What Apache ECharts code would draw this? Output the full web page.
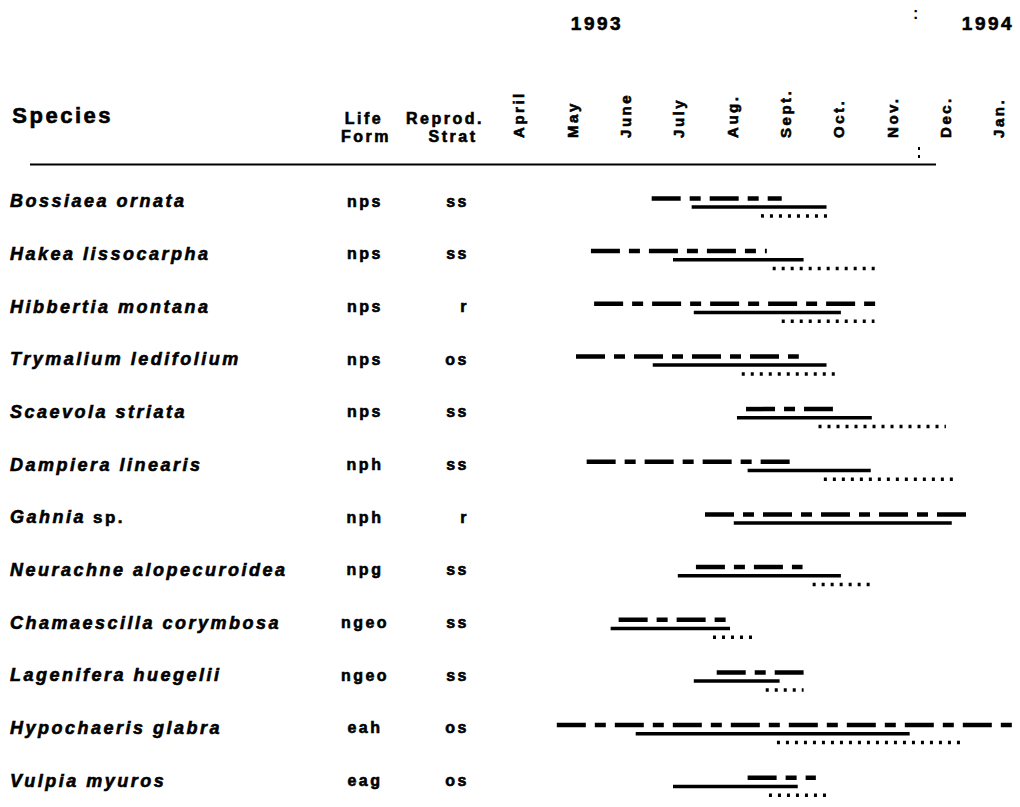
<!DOCTYPE html>
<html>
<head>
<meta charset="utf-8">
<script src="https://cdn.jsdelivr.net/npm/echarts@6/dist/echarts.min.js"></script>
<style>
  html, body { margin: 0; padding: 0; background: #fff; }
  #chart { width: 1020px; height: 807px; }
  #chart text { letter-spacing: 2.5px; }
</style>
</head>
<body>
<div id="chart"></div>
<script>
// ---- Data (month index: 0 = April 1993 ... 9 = January 1994) ----
const months = ['April', 'May', 'June', 'July', 'Aug.', 'Sept.', 'Oct.', 'Nov.', 'Dec.', 'Jan.'];
const species = ['Bossiaea ornata', 'Hakea lissocarpha', 'Hibbertia montana', 'Trymalium ledifolium',
  'Scaevola striata', 'Dampiera linearis', 'Gahnia sp.', 'Neurachne alopecuroidea',
  'Chamaescilla corymbosa', 'Lagenifera huegelii', 'Hypochaeris glabra', 'Vulpia myuros'];
const lifeForm = ['nps', 'nps', 'nps', 'nps', 'nps', 'nph', 'nph', 'npg', 'ngeo', 'ngeo', 'eah', 'eag'];
const reprodStrat = ['ss', 'ss', 'r', 'os', 'ss', 'ss', 'r', 'ss', 'ss', 'ss', 'os', 'os'];
// dashed bars [start, end]
const phaseDashed = [[2.49, 4.93], [1.35, 4.65], [1.41, 6.69], [1.07, 5.25], [4.26, 5.89], [1.27, 5.10],
  [3.49, 8.44], [3.32, 5.32], [1.87, 3.92], [3.71, 5.34], [0.71, 9.34], [4.29, 5.57]];
// solid bars [start, end]
const phaseSolid = [[3.24, 5.77], [2.89, 5.34], [3.28, 6.04], [2.51, 5.77], [4.09, 6.62], [4.29, 6.60],
  [4.03, 8.12], [2.98, 6.04], [1.72, 3.96], [3.28, 4.89], [2.19, 7.33], [2.89, 5.23]];
// dotted bars [start, end] (null = none)
const phaseDotted = [[4.54, 5.89], [4.76, 6.77], [4.93, 6.67], [4.18, 5.94], [5.62, 8.01], [5.72, 8.14],
  null, [5.51, 6.58], [3.64, 4.39], [4.63, 5.34], [4.84, 8.32], [4.69, 5.81]];
const years = ['1993', '1994'];

// ---- Layout ----
const gridLeft = 465.66, gridWidth = 554.7;   // x: -1 .. 9.4
const rowStep = 54.1, firstRowY = 202;
const gridTop = firstRowY - rowStep / 2, gridHeight = rowStep * species.length;
const offDashed = -0.055, offSolid = 0.11, offDotted = 0.277;

function barSeries(name, arr, off, lineStyle) {
  const out = [];
  arr.forEach((r, i) => {
    if (!r) return;
    out.push({
      name: name, type: 'line', xAxisIndex: 0, yAxisIndex: 3,
      data: [[r[0], i + off], [r[1], i + off]],
      symbol: 'none', clip: false, silent: true,
      lineStyle: Object.assign({ color: '#000', cap: 'butt' }, lineStyle)
    });
  });
  return out;
}

const series = [].concat(
  barSeries('Dashed phase', phaseDashed, offDashed, { width: 4.5, type: [29, 9, 11, 9] }),
  barSeries('Solid phase', phaseSolid, offSolid, { width: 3.5, type: 'solid' }),
  barSeries('Dotted phase', phaseDotted, offDotted, { width: 3.5, type: [3, 6] })
);

const FONT = '"Liberation Sans", Arial, sans-serif';
const heavy = { textBorderColor: '#000', textBorderWidth: 0.6 };
const chart = echarts.init(document.getElementById('chart'), null, { renderer: 'svg' });
chart.setOption({
  animation: false,
  backgroundColor: '#fff',
  grid: { left: gridLeft, width: gridWidth, top: gridTop, height: gridHeight, containLabel: false },
  xAxis: [{
    type: 'value', position: 'top', min: -1, max: 9.4, interval: 1,
    axisLine: { show: false }, axisTick: { show: false }, splitLine: { show: false },
    axisLabel: Object.assign({
      rotate: 90, margin: 37, fontSize: 15, fontWeight: 'bold', color: '#000', fontFamily: FONT,
      showMinLabel: true, showMaxLabel: false,
      formatter: v => (Number.isInteger(v) && v >= 0 && v < months.length) ? months[v] : ''
    }, heavy)
  }],
  yAxis: [
    {
      type: 'category', data: species, inverse: true, position: 'left',
      axisLine: { show: false }, axisTick: { show: false },
      axisLabel: Object.assign({
        align: 'left', margin: gridLeft - 10, fontSize: 18, fontWeight: 'bold', fontStyle: 'italic',
        color: '#000', fontFamily: FONT,
        formatter: v => v.endsWith(' sp.') ? '{i|' + v.slice(0, -4) + '}{n|sp.}' : v,
        rich: {
          i: Object.assign({ fontSize: 18, fontWeight: 'bold', fontStyle: 'italic', color: '#000', fontFamily: FONT, padding: [0, 22, 0, 0] }, heavy),
          n: Object.assign({ fontSize: 17, fontWeight: 'bold', fontStyle: 'normal', color: '#000', fontFamily: FONT }, heavy)
        }
      }, heavy)
    },
    {
      type: 'category', data: species, inverse: true, position: 'left',
      axisLine: { show: false }, axisTick: { show: false },
      axisLabel: Object.assign({
        align: 'center', margin: gridLeft - 365, fontSize: 16, fontWeight: 'bold', color: '#000',
        fontFamily: FONT, padding: [9, 0, 0, 0],
        formatter: (v, i) => lifeForm[i]
      }, heavy)
    },
    {
      type: 'category', data: species, inverse: true, position: 'left',
      axisLine: { show: false }, axisTick: { show: false },
      axisLabel: Object.assign({
        align: 'right', margin: gridLeft - 469, fontSize: 16, fontWeight: 'bold', color: '#000',
        fontFamily: FONT, padding: [9, 0, 0, 0],
        formatter: (v, i) => reprodStrat[i]
      }, heavy)
    },
    {
      type: 'value', inverse: true, min: -0.5, max: species.length - 0.5, show: false
    }
  ],
  series: series,
  graphic: [
    { type: 'text', left: 12, top: 104, style: Object.assign({ text: 'Species', font: 'bold 22px ' + FONT, fill: '#000' }, {stroke: '#000', lineWidth: 0.6}) },
    { type: 'text', x: 364, y: 118, style: { text: 'Life', font: 'bold 16px ' + FONT, fill: '#000', stroke: '#000', lineWidth: 0.6, textAlign: 'center', textVerticalAlign: 'middle' } },
    { type: 'text', x: 366, y: 136, style: { text: 'Form', font: 'bold 16px ' + FONT, fill: '#000', stroke: '#000', lineWidth: 0.6, textAlign: 'center', textVerticalAlign: 'middle' } },
    { type: 'text', x: 445, y: 118, style: { text: 'Reprod.', font: 'bold 16px ' + FONT, fill: '#000', stroke: '#000', lineWidth: 0.6, textAlign: 'center', textVerticalAlign: 'middle' } },
    { type: 'text', x: 453, y: 136, style: { text: 'Strat', font: 'bold 16px ' + FONT, fill: '#000', stroke: '#000', lineWidth: 0.6, textAlign: 'center', textVerticalAlign: 'middle' } },
    { type: 'text', x: 597, y: 23, style: { text: years[0], font: 'bold 19px ' + FONT, fill: '#000', stroke: '#000', lineWidth: 0.6, textAlign: 'center', textVerticalAlign: 'middle' } },
    { type: 'text', x: 988, y: 23, style: { text: years[1], font: 'bold 19px ' + FONT, fill: '#000', stroke: '#000', lineWidth: 0.6, textAlign: 'center', textVerticalAlign: 'middle' } },
    { type: 'text', x: 917, y: 13, style: { text: ':', font: 'bold 16px ' + FONT, fill: '#000', textAlign: 'center', textVerticalAlign: 'middle' } },
    { type: 'line', shape: { x1: 30, y1: 164.5, x2: 936, y2: 164.5 }, style: { stroke: '#000', lineWidth: 2 } },
    { type: 'line', shape: { x1: 919, y1: 147, x2: 919, y2: 162 }, style: { stroke: '#000', lineWidth: 2, lineDash: [3, 5] } }
  ]
});
</script>
</body>
</html>
